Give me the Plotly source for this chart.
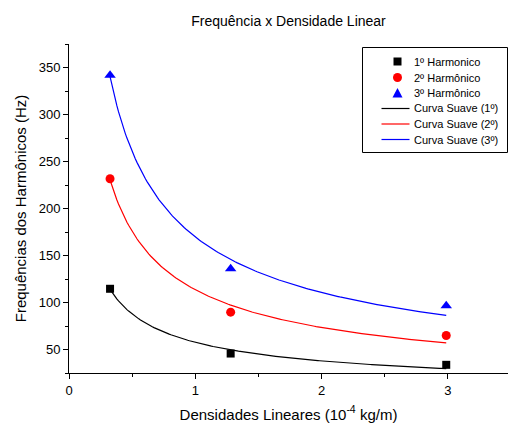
import numpy as np
import plotly.graph_objects as go

# Data
densidade = [0.325, 1.28, 2.987]          # 10^-4 kg/m
harm1 = [114.6, 45.7, 33.7]               # Hz
harm2 = [231.6, 89.7, 64.9]
harm3 = [341.8, 136.0, 96.5]

series_names = ["1º Harmonico", "2º Harmônico", "3º Harmônico"]
curve_names = ["Curva Suave (1º)", "Curva Suave (2º)", "Curva Suave (3º)"]
colors = ["black", "red", "blue"]
symbols = ["square", "circle", "triangle-up"]
sizes = [8, 9, 10]


def power_fit(x, y):
    """Least-squares allometric fit y = a*x^b (grid search on b)."""
    x = np.asarray(x, float)
    y = np.asarray(y, float)
    best = None
    for b in np.linspace(-1.5, -0.1, 2801):
        xb = x ** b
        a = np.sum(y * xb) / np.sum(xb * xb)
        sse = np.sum((y - a * xb) ** 2)
        if best is None or sse < best[2]:
            best = (a, b, sse)
    return best[0], best[1]


fig = go.Figure()
all_series = [harm1, harm2, harm3]
for name, ys, c, s, sz in zip(series_names, all_series, colors, symbols, sizes):
    fig.add_trace(go.Scatter(x=densidade, y=ys, mode="markers", name=name, showlegend=False,
                             marker=dict(color=c, symbol=s, size=sz, line=dict(width=0))))

xs = np.linspace(min(densidade), max(densidade), 200)
for name, ys, c in zip(curve_names, all_series, colors):
    a, b = power_fit(densidade, ys)
    fig.add_trace(go.Scatter(x=xs, y=a * xs ** b, mode="lines", name=name, showlegend=False,
                             line=dict(color=c, width=1.2)))

# ---- layout geometry (pixels) ----
W, H = 508, 425
ML, MR, MT, MB = 69, 0, 44, 52
PW, PH = W - ML - MR, H - MT - MB


def px(xp):
    return (xp - ML) / PW


def py(yp):
    return (H - MB - yp) / PH


# ---- hand-drawn legend (compact, like the reference) ----
shapes = []
annotations = []
shapes.append(dict(type="rect", xref="paper", yref="paper",
                   x0=px(362.5), x1=px(507.5), y0=py(152.5), y1=py(47.5),
                   line=dict(color="black", width=1), fillcolor="white", layer="above"))
row_y = [61.5, 77.5, 93, 108.5, 124, 139.5]
mx = 397.5
text_x = 412
for i, (name, c, s) in enumerate(zip(series_names, colors, symbols)):
    yc = row_y[i]
    if s == "square":
        shapes.append(dict(type="rect", xref="paper", yref="paper",
                           x0=px(mx - 4), x1=px(mx + 4), y0=py(yc + 4), y1=py(yc - 4),
                           line=dict(width=0), fillcolor=c, layer="above"))
    elif s == "circle":
        shapes.append(dict(type="circle", xref="paper", yref="paper",
                           x0=px(mx - 4.5), x1=px(mx + 4.5), y0=py(yc + 4.5), y1=py(yc - 4.5),
                           line=dict(width=0), fillcolor=c, layer="above"))
    else:
        path = "M {} {} L {} {} L {} {} Z".format(px(mx - 5), py(yc + 4.5), px(mx + 5), py(yc + 4.5),
                                                   px(mx), py(yc - 5))
        shapes.append(dict(type="path", xref="paper", yref="paper", path=path,
                           line=dict(width=0), fillcolor=c, layer="above"))
    annotations.append(dict(text=name, xref="paper", yref="paper", x=px(text_x), y=py(yc),
                            xanchor="left", yanchor="middle", showarrow=False,
                            font=dict(size=11)))
for j, (name, c) in enumerate(zip(curve_names, colors)):
    yc = row_y[3 + j]
    shapes.append(dict(type="line", xref="paper", yref="paper",
                       x0=px(381.5), x1=px(409.5), y0=py(yc), y1=py(yc),
                       line=dict(color=c, width=1.2), layer="above"))
    annotations.append(dict(text=name, xref="paper", yref="paper", x=px(text_x), y=py(yc),
                            xanchor="left", yanchor="middle", showarrow=False,
                            font=dict(size=11)))

font = "Liberation Sans, Arial, sans-serif"
fig.update_layout(
    width=W, height=H,
    margin=dict(l=ML, r=MR, t=MT, b=MB),
    paper_bgcolor="white", plot_bgcolor="white",
    font=dict(family=font, color="black", size=13),
    title=dict(text="Frequência x Densidade Linear", x=0.5, xref="paper",
               y=0.95, yref="container", xanchor="center", yanchor="middle",
               font=dict(size=14)),
    xaxis=dict(range=[0, 3.476], tickmode="linear", tick0=0, dtick=1,
               showgrid=False, zeroline=False, showline=True, linecolor="black",
               linewidth=1, ticks="outside", ticklen=5, tickcolor="black",
               tickfont=dict(size=13),
               minor=dict(ticks="outside", ticklen=3, dtick=0.5, tickcolor="black", showgrid=False),
               title=dict(text="Densidades Lineares (10<sup>-4</sup> kg/m)",
                          font=dict(size=15), standoff=12)),
    yaxis=dict(range=[25, 375], tickmode="linear", tick0=0, dtick=50,
               showgrid=False, zeroline=False, showline=True, linecolor="black",
               linewidth=1, ticks="outside", ticklen=5, tickcolor="black",
               tickfont=dict(size=13),
               minor=dict(ticks="outside", ticklen=3, dtick=25, tickcolor="black", showgrid=False),
               title=dict(text="Frequências dos Harmônicos (Hz)",
                          font=dict(size=15), standoff=8)),
    shapes=shapes,
    annotations=annotations,
    showlegend=False,
)

fig.write_html("out.html")
